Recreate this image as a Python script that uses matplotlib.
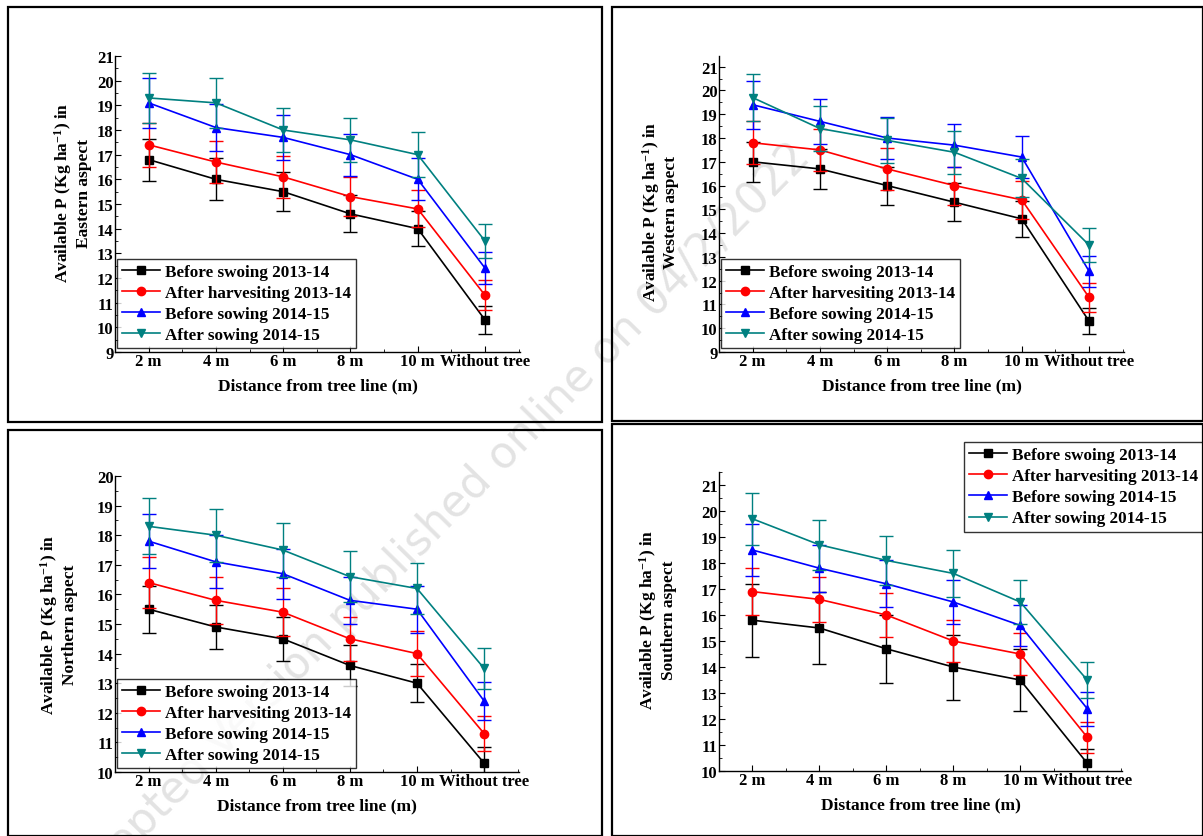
import matplotlib
matplotlib.use("Agg")
import matplotlib.pyplot as plt
from matplotlib.patches import Rectangle
from matplotlib.ticker import MultipleLocator

plt.rcParams["font.family"] = ["Liberation Serif", "DejaVu Serif"]
plt.rcParams["font.weight"] = "bold"
plt.rcParams["mathtext.fontset"] = "custom"
plt.rcParams["mathtext.rm"] = "Liberation Serif:bold"
plt.rcParams["mathtext.default"] = "rm"

distances = ["2 m", "4 m", "6 m", "8 m", "10 m", "Without tree"]
series_names = ["Before swoing 2013-14", "After harvesiting 2013-14",
                "Before sowing 2014-15", "After sowing 2014-15"]
aspects = ["Eastern", "Western", "Northern", "Southern"]

# Eastern aspect
east_mean = [
    [16.8, 16.0, 15.5, 14.6, 14.0, 10.3],
    [17.4, 16.7, 16.1, 15.3, 14.8, 11.3],
    [19.1, 18.1, 17.7, 17.0, 16.0, 12.4],
    [19.3, 19.1, 18.0, 17.6, 17.0, 13.5],
]
east_err = [
    [0.85, 0.85, 0.8, 0.75, 0.7, 0.55],
    [0.9, 0.85, 0.85, 0.8, 0.75, 0.6],
    [1.0, 0.95, 0.9, 0.85, 0.85, 0.65],
    [1.0, 1.0, 0.9, 0.9, 0.9, 0.7],
]
# Western aspect
west_mean = [
    [17.0, 16.7, 16.0, 15.3, 14.6, 10.3],
    [17.8, 17.5, 16.7, 16.0, 15.4, 11.3],
    [19.4, 18.7, 18.0, 17.7, 17.2, 12.4],
    [19.7, 18.4, 17.9, 17.4, 16.3, 13.5],
]
west_err = [
    [0.85, 0.85, 0.8, 0.8, 0.75, 0.55],
    [0.9, 0.9, 0.9, 0.8, 0.8, 0.6],
    [1.0, 0.95, 0.9, 0.9, 0.9, 0.65],
    [1.0, 0.95, 0.95, 0.9, 0.8, 0.7],
]
# Northern aspect
north_mean = [
    [15.5, 14.9, 14.5, 13.6, 13.0, 10.3],
    [16.4, 15.8, 15.4, 14.5, 14.0, 11.3],
    [17.8, 17.1, 16.7, 15.8, 15.5, 12.4],
    [18.3, 18.0, 17.5, 16.6, 16.2, 13.5],
]
north_err = [
    [0.8, 0.75, 0.75, 0.7, 0.65, 0.55],
    [0.85, 0.8, 0.8, 0.75, 0.75, 0.6],
    [0.9, 0.9, 0.85, 0.8, 0.8, 0.65],
    [0.95, 0.9, 0.9, 0.85, 0.85, 0.7],
]
# Southern aspect
south_mean = [
    [15.8, 15.5, 14.7, 14.0, 13.5, 10.3],
    [16.9, 16.6, 16.0, 15.0, 14.5, 11.3],
    [18.5, 17.8, 17.2, 16.5, 15.6, 12.4],
    [19.7, 18.7, 18.1, 17.6, 16.5, 13.5],
]
south_err = [
    [1.4, 1.4, 1.3, 1.25, 1.2, 0.55],
    [0.9, 0.85, 0.85, 0.8, 0.8, 0.6],
    [1.0, 0.9, 0.9, 0.85, 0.8, 0.65],
    [1.0, 0.95, 0.95, 0.9, 0.85, 0.7],
]

colors = ["black", "#ff0000", "#0000ff", "#008080"]
markers = ["s", "o", "^", "v"]

W, H = 1203, 837
fig = plt.figure(figsize=(W / 100, H / 100), dpi=100)


def fx(px):
    return px / W


def fy(py):
    return 1 - py / H


# panel frames (left, top, right, bottom in pixels)
frames = [(8, 8, 602, 423), (612, 8, 1203, 422), (8, 431, 602, 837), (612, 425, 1203, 837)]
for l, t, r, b in frames:
    fig.add_artist(Rectangle((fx(l), fy(b)), fx(r - l), fy(t) - fy(b),
                             transform=fig.transFigure, fill=False,
                             edgecolor="black", linewidth=1.6))

# faint diagonal watermark, behind the plots
fig.text(fx(432), fy(528), "Accepted Version published online on 04/2/2022",
         rotation=45.5, fontsize=31.5, color="#e3e3e3", ha="center", va="center",
         family="DejaVu Sans", fontweight="normal", zorder=-1)

# axes boxes (left, top, right, bottom in pixels) and y ranges
boxes = [(115, 57, 520, 353), (719, 57, 1124, 353), (115, 477, 519, 773), (719, 473, 1122, 772)]
ylims = [(9, 21), (9, 21.45), (10, 20), (10, 21.5)]
ylabel_pos = [(-0.107, 0.54), (-0.147, 0.476), (-0.14, 0.5), (-0.153, 0.508)]
means = [east_mean, west_mean, north_mean, south_mean]
errs = [east_err, west_err, north_err, south_err]

x = list(range(len(distances)))
for k in range(4):
    l, t, r, b = boxes[k]
    ax = fig.add_axes([fx(l), fy(b), fx(r - l), fy(t) - fy(b)])
    ax.patch.set_alpha(0)
    for i in range(4):
        ax.errorbar(x, means[k][i], yerr=errs[k][i], fmt="none", ecolor=colors[i],
                    elinewidth=1.0, capsize=5, capthick=1.0)
        ax.plot(x, means[k][i], color=colors[i], marker=markers[i], markersize=6,
                linewidth=1.2, label=series_names[i])
    ax.set_xlim(-0.5, 5.52)
    ax.set_ylim(*ylims[k])
    ax.set_xticks(x)
    ax.set_xticklabels(distances)
    ax.xaxis.set_minor_locator(MultipleLocator(0.5))
    ax.yaxis.set_major_locator(MultipleLocator(1))
    ax.yaxis.set_minor_locator(MultipleLocator(0.5))
    ax.tick_params(which="major", direction="in", length=4, width=0.8,
                   labelsize=12, pad=1)
    ax.tick_params(which="minor", direction="in", length=2, width=0.6)
    for s in ["top", "right"]:
        ax.spines[s].set_visible(False)
    for s in ["left", "bottom"]:
        ax.spines[s].set_linewidth(1.0)
    ax.set_xlabel("Distance from tree line (m)", fontsize=12.5, fontweight="bold", labelpad=6)
    ax.set_ylabel("Available P (Kg ha$^{-1}$) in\n" + aspects[k] + " aspect",
                  fontsize=12.5, fontweight="bold", linespacing=1.15, va="center")
    ax.yaxis.set_label_coords(*ylabel_pos[k])
    leg_kw = dict(fontsize=12.3, frameon=True, fancybox=False, handlelength=2.2,
                  handletextpad=0.3, labelspacing=0.3, borderpad=0.3,
                  borderaxespad=0)
    if k < 3:
        leg = ax.legend(loc="lower left", bbox_to_anchor=(0.005, 0.012), **leg_kw)
    else:
        leg = ax.legend(loc="upper left", bbox_to_anchor=(fx(964), fy(443)),
                        bbox_transform=fig.transFigure, **leg_kw)
    leg.get_frame().set_edgecolor("black")
    leg.get_frame().set_linewidth(1.0)
    for txt in leg.get_texts():
        txt.set_fontweight("bold")

fig.savefig("out.png", dpi=100)
